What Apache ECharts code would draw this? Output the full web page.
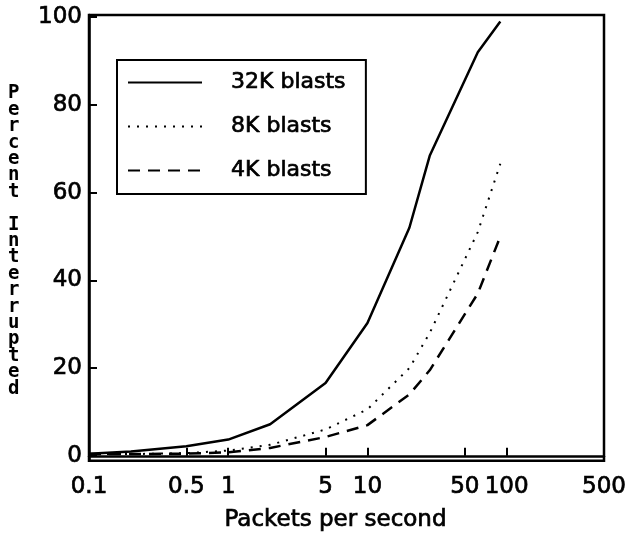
<!DOCTYPE html>
<html>
<head>
<meta charset="utf-8">
<script src="https://cdn.jsdelivr.net/npm/echarts@6/dist/echarts.min.js"></script>
<style>
  html, body { margin: 0; padding: 0; background: #fff; }
  #main { width: 631px; height: 537px; }
</style>
</head>
<body>
<div id="main"></div>
<script>
// packets per second (x) where the curves bend
var rates = [0.1, 0.2, 0.5, 1, 2, 5, 10, 20, 28, 62, 90];
// percent interrupted
var blasts32K = [0.5, 1.0, 2.2, 3.7, 7.2, 16.6, 30.3, 52, 68.4, 92, 99];
var blasts8K = [0.4, 0.4, 0.6, 1.2, 2.5, 6.0, 10.6, 20, 28, 51, 66.6];
var blasts4K = [0.4, 0.4, 0.5, 0.8, 1.8, 4.3, 7.0, 14, 19.5, 37, 50];
var seriesNames = ['32K blasts', '8K blasts', '4K blasts'];

var xTicks = [0.1, 0.5, 1, 5, 10, 50, 100, 500];
var yTicks = [0, 20, 40, 60, 80, 100];
var yTitle = 'Percent Interrupted';

function pairs(ys) {
    return rates.map(function (x, i) { return [x, ys[i]]; });
}

// a thin outline makes the text look as heavy as the scanned original
var txt = {
    fontFamily: 'DejaVu Sans', fontSize: 23, color: '#000',
    textBorderColor: '#000', textBorderWidth: 0.7
};
var myChart = echarts.init(document.getElementById('main'));

myChart.setOption({
    animation: false,
    backgroundColor: '#fff',
    grid: {
        left: 89, right: 27, top: 15, bottom: 72,
        show: true, borderColor: '#000', borderWidth: 2.5
    },
    legend: {
        left: 117, top: 60,
        orient: 'vertical',
        itemWidth: 74, itemHeight: 14,
        itemGap: 21,
        padding: [11, 20, 12, 10],
        borderColor: '#000', borderWidth: 2,
        itemStyle: { opacity: 0 },
        textStyle: Object.assign({}, txt, { fontSize: 22, lineHeight: 23, padding: [0, 0, 0, 24] }),
        data: seriesNames
    },
    xAxis: {
        type: 'log', logBase: 10,
        min: 0.1, max: 500,
        name: 'Packets per second',
        nameLocation: 'middle', nameGap: 48,
        nameTextStyle: Object.assign({}, txt, { padding: [0, 22, 0, 0] }),
        axisLine: { lineStyle: { color: '#000', width: 2.5 } },
        axisTick: { inside: true, length: 8, customValues: xTicks, lineStyle: { color: '#000', width: 2 } },
        minorTick: { show: false },
        axisLabel: Object.assign({}, txt, {
            customValues: xTicks, margin: 15,
            formatter: function (v) { return String(v); }
        }),
        splitLine: { show: false }
    },
    yAxis: {
        type: 'value',
        min: -1.1, max: 100.5,
        axisLine: { show: true, lineStyle: { color: '#000', width: 2.5 } },
        axisTick: { show: true, inside: true, length: 8, customValues: yTicks, lineStyle: { color: '#000', width: 2 } },
        axisLabel: Object.assign({}, txt, { customValues: yTicks, margin: 7 }),
        splitLine: { show: false }
    },
    graphic: [{
        type: 'text',
        left: 8, top: 84,
        style: {
            text: yTitle.split('').join('\n'),
            fontFamily: 'DejaVu Sans Mono', fontWeight: 'bold',
            fontSize: 19, lineHeight: 16.4,
            fill: '#000', align: 'center'
        }
    }],
    series: [{
        name: seriesNames[0], type: 'line', symbol: 'none',
        lineStyle: { color: '#000', width: 2.5, type: 'solid' },
        itemStyle: { color: '#000' },
        data: pairs(blasts32K)
    }, {
        name: seriesNames[1], type: 'line', symbol: 'none',
        lineStyle: { color: '#000', width: 2, type: [2, 7] },
        itemStyle: { color: '#000' },
        data: pairs(blasts8K)
    }, {
        name: seriesNames[2], type: 'line', symbol: 'none',
        lineStyle: { color: '#000', width: 2.5, type: [12, 8] },
        itemStyle: { color: '#000' },
        data: pairs(blasts4K)
    }]
});
</script>
</body>
</html>
